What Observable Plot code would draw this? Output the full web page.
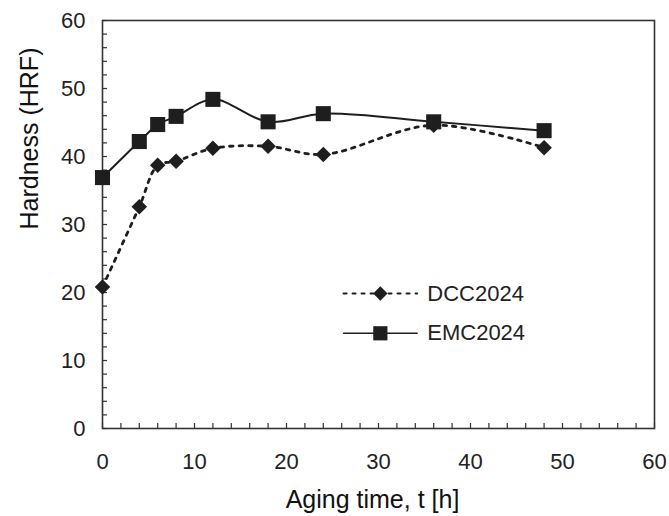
<!DOCTYPE html>
<html>
<head>
<meta charset="utf-8">
<script src="https://cdn.jsdelivr.net/npm/d3@7"></script>
<script src="https://cdn.jsdelivr.net/npm/@observablehq/plot@0.6"></script>
<style>
  html, body { margin: 0; padding: 0; background: #fff; }
  #chart svg { display: block; font-family: "Liberation Sans", Arial, sans-serif; }
</style>
</head>
<body>
<div id="chart"></div>
<script>
// ---- data ----
const agingTime = [0, 4, 6, 8, 12, 18, 24, 36, 48];
const dcc2024 = [20.8, 32.6, 38.7, 39.3, 41.2, 41.5, 40.3, 44.6, 41.3];
const emc2024 = [36.9, 42.2, 44.7, 45.9, 48.4, 45.1, 46.3, 45.1, 43.8];

const seriesNames = ["DCC2024", "EMC2024"];
const xMajorTicks = [0, 10, 20, 30, 40, 50, 60];
const yMajorTicks = [0, 10, 20, 30, 40, 50, 60];
const minorTicks = d3.range(0, 61, 2);

// legend placement (data coordinates)
const legendRowsY = [19.85, 14.0];
const legendLineX = [26.2, 34.2];
const legendMarkerX = 30.2;
const legendTextX = 35.3;

const xTitle = "Aging time, t [h]";
const yTitle = "Hardness (HRF)";

// ---- build tables ----
const dccData = agingTime.map((t, i) => ({t, v: dcc2024[i]}));
const emcData = agingTime.map((t, i) => ({t, v: emc2024[i]}));

const W = 669, H = 516;
const mL = 102, mR = 15, mT = 20, mB = 88;
const plotH = H - mT - mB;
const plotW = W - mL - mR;
const ink = "#1e1e1e";

const legendLines = seriesNames.flatMap((name, i) =>
  legendLineX.map(x => ({name, x, y: legendRowsY[i]})));
const legendMarkers = seriesNames.map((name, i) => ({name, x: legendMarkerX, y: legendRowsY[i]}));

const chart = Plot.plot({
  width: W,
  height: H,
  marginLeft: mL,
  marginRight: mR,
  marginTop: mT,
  marginBottom: mB,
  style: {fontFamily: "'Liberation Sans', Arial, sans-serif", background: "#fff", color: ink},
  x: {domain: [0, 60]},
  y: {domain: [0, 60]},
  marks: [
    // inward minor/major ticks
    Plot.tickX(minorTicks, {x: d => d, insetTop: plotH - 5, stroke: "#333", strokeWidth: 1.2}),
    Plot.tickY(minorTicks, {y: d => d, insetRight: plotW - 5, stroke: "#333", strokeWidth: 1.2}),
    Plot.axisX({ticks: xMajorTicks, tickSize: 0, tickPadding: 25, fontSize: 22, label: null, fill: "#222", letterSpacing: -0.8}),
    Plot.axisY({ticks: yMajorTicks, tickSize: 0, tickPadding: 17, fontSize: 22, label: null, fill: "#222", letterSpacing: -0.8}),
    Plot.frame({stroke: "#333", strokeWidth: 1.6}),
    // series
    Plot.line(dccData, {x: "t", y: "v", curve: "catmull-rom", stroke: ink, strokeWidth: 2.8, strokeDasharray: "3.5,6"}),
    Plot.line(emcData, {x: "t", y: "v", curve: "catmull-rom", stroke: ink, strokeWidth: 2}),
    Plot.dot(dccData, {x: "t", y: "v", symbol: "diamond2", r: 7, fill: ink, stroke: "none"}),
    Plot.dot(emcData, {x: "t", y: "v", symbol: "square", r: 8.5, fill: ink, stroke: "none"}),
    // legend
    Plot.line(legendLines.filter(d => d.name === "DCC2024"), {x: "x", y: "y", stroke: ink, strokeWidth: 2, strokeDasharray: "3,6"}),
    Plot.line(legendLines.filter(d => d.name === "EMC2024"), {x: "x", y: "y", stroke: ink, strokeWidth: 1.6}),
    Plot.dot(legendMarkers.filter(d => d.name === "DCC2024"), {x: "x", y: "y", symbol: "diamond2", r: 6.5, fill: ink}),
    Plot.dot(legendMarkers.filter(d => d.name === "EMC2024"), {x: "x", y: "y", symbol: "square", r: 8, fill: ink}),
    Plot.text(legendMarkers, {x: legendTextX, y: "y", text: "name", textAnchor: "start", fontSize: 22, fill: "#222", letterSpacing: -0.8}),
    // axis titles
    Plot.text([xTitle], {frameAnchor: "bottom", text: d => d, dy: 71, dx: -6, fontSize: 25, lineAnchor: "middle", fill: "#111"}),
    Plot.text([yTitle], {frameAnchor: "left", text: d => d, rotate: -90, dx: -73, dy: 5, fontSize: 25, lineAnchor: "middle", fill: "#111"})
  ]
});

document.getElementById("chart").appendChild(chart);
</script>
</body>
</html>
